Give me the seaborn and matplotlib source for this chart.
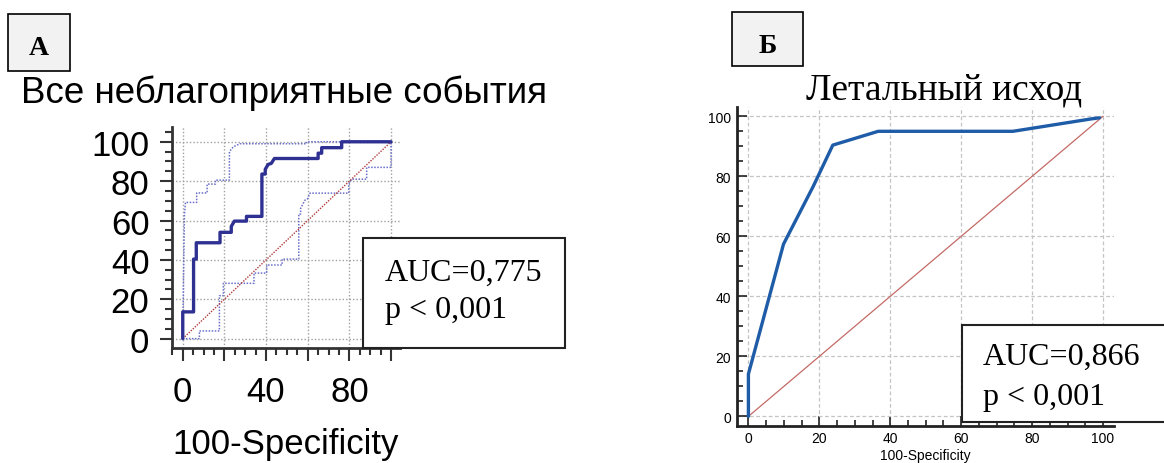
import matplotlib
matplotlib.use("Agg")
import matplotlib.pyplot as plt
import seaborn as sns
import pandas as pd
from matplotlib.patches import Rectangle
from matplotlib.ticker import MultipleLocator, FixedLocator, FixedFormatter

# ---------------- data ----------------
a_roc_fpr = [0, 0, 5.2, 5.2, 6.5, 6.5, 17.9, 17.9, 23.3, 23.3, 24.8, 30.6, 30.6, 38.0, 38.0,
             39.6, 39.6, 41.0, 42.5, 44.0, 65.0, 65.0, 66.7, 66.7, 76.3, 76.3, 100]
a_roc_tpr = [0, 13.6, 13.6, 40.4, 40.4, 48.7, 48.7, 54.0, 54.0, 57.0, 59.7, 59.7, 62.1, 62.1, 83.6,
             83.6, 86.0, 88.5, 89.0, 91.5, 91.5, 94.2, 94.2, 97.0, 97.0, 100, 100]
a_up_fpr = [0, 0.4, 0.8, 1.3, 6.7, 6.7, 11.7, 11.7, 15.7, 15.7, 22.4, 22.4, 24.3, 27.5, 59.5, 59.5, 100]
a_up_tpr = [0, 33.7, 62.4, 69.2, 69.2, 74.0, 74.0, 78.5, 78.5, 80.5, 80.5, 95.0, 97.5, 99.0, 99.0, 100, 100]
a_lo_fpr = [0, 8.0, 8.0, 17.6, 17.6, 19.5, 19.5, 34.2, 34.2, 40.3, 40.3, 47.7, 47.7, 55.7, 55.7,
            56.6, 56.6, 58.7, 59.8, 61.1, 79.7, 79.7, 81.1, 88.3, 88.3, 100, 100]
a_lo_tpr = [0, 0, 3.9, 3.9, 21.8, 21.8, 28.1, 28.1, 33.3, 33.3, 37.4, 37.4, 40.4, 40.4, 63.3,
            63.3, 66.2, 70.4, 70.9, 73.9, 73.9, 78.5, 81.0, 81.0, 87.0, 87.0, 100]
b_roc_fpr = [0, 0, 9.9, 18.3, 23.8, 36.6, 74.6, 96.5, 99.0]
b_roc_tpr = [0, 14.1, 57.4, 76.7, 90.4, 95.0, 95.0, 99.1, 99.5]
diag_x = [0, 100]
diag_y = [0, 100]

major_ticks = [0, 20, 40, 60, 80, 100]
a_xticklabels = ["0", "", "40", "", "80", ""]
a_yticklabels = ["0", "20", "40", "60", "80", "100"]
b_ticklabels = ["0", "20", "40", "60", "80", "100"]

a_title = "Все неблагоприятные события"
b_title = "Летальный исход"
a_letter = "А"
b_letter = "Б"
a_auc = "AUC=0,775"
b_auc = "AUC=0,866"
p_text = "p < 0,001"
x_label = "100-Specificity"

# ---------------- figure ----------------
sns.set_theme(style="white")
plt.rcParams["font.family"] = ["Liberation Sans", "DejaVu Sans"]
plt.rcParams["text.color"] = "black"
plt.rcParams["axes.labelcolor"] = "black"
plt.rcParams["xtick.color"] = "black"
plt.rcParams["ytick.color"] = "black"
W, H = 1164, 464
fig = plt.figure(figsize=(W / 100, H / 100), dpi=100)


def fx(px):
    return px / W


def fy(py):
    return 1 - py / H


SERIF = ["Liberation Serif", "DejaVu Serif"]

# ---------- panel A ----------
axA = fig.add_axes([fx(171.7), fy(348.7), (400 - 171.7) / W, (348.7 - 128) / H])
sns.lineplot(x=a_up_fpr, y=a_up_tpr, sort=False, estimator=None, ax=axA,
             color="#6a6fc8", lw=1.1, ls=(0, (1, 1)))
sns.lineplot(x=a_lo_fpr, y=a_lo_tpr, sort=False, estimator=None, ax=axA,
             color="#6a6fc8", lw=1.1, ls=(0, (1, 1)))
sns.lineplot(x=diag_x, y=diag_y, sort=False, estimator=None, ax=axA,
             color="#b03a3a", lw=1.0, ls=(0, (1, 1)))
sns.lineplot(x=a_roc_fpr, y=a_roc_tpr, sort=False, estimator=None, ax=axA,
             color="#2e3192", lw=2.4)
axA.set_xlim(-5.3, 104.3)
axA.set_ylim(-4.6, 107.5)
axA.xaxis.set_major_locator(FixedLocator(major_ticks))
axA.xaxis.set_major_formatter(FixedFormatter(a_xticklabels))
axA.yaxis.set_major_locator(FixedLocator(major_ticks))
axA.yaxis.set_major_formatter(FixedFormatter(a_yticklabels))
axA.xaxis.set_minor_locator(MultipleLocator(5))
axA.yaxis.set_minor_locator(MultipleLocator(5))
axA.grid(True, which="major", ls=(0, (1, 1.5)), color="#a0a0a0", lw=1)
axA.tick_params(which="both", bottom=True, left=True, direction="out", color="#333333", width=1.5)
axA.tick_params(which="major", length=9)
axA.tick_params(which="minor", length=5)
axA.tick_params(axis="x", which="major", labelsize=25, pad=11, labelcolor="black")
axA.tick_params(axis="y", which="major", labelsize=25, pad=7, labelcolor="black")
for s in ["top", "right"]:
    axA.spines[s].set_visible(False)
for s in ["left", "bottom"]:
    axA.spines[s].set_color("#333333")
    axA.spines[s].set_linewidth(2)
axA.set_xlabel(x_label, fontsize=25, labelpad=13, color="black")
axA.set_ylabel("")

# ---------- panel B ----------
axB = fig.add_axes([fx(736.7), fy(426.7), (1114 - 736.7) / W, (426.7 - 108) / H])
sns.lineplot(x=diag_x, y=diag_y, sort=False, estimator=None, ax=axB,
             color="#c46a66", lw=0.9)
sns.lineplot(x=b_roc_fpr, y=b_roc_tpr, sort=False, estimator=None, ax=axB,
             color="#1f5ca8", lw=2.4)
axB.set_xlim(-3.3, 103.1)
axB.set_ylim(-3.1, 103.1)
axB.xaxis.set_major_locator(FixedLocator(major_ticks))
axB.xaxis.set_major_formatter(FixedFormatter(b_ticklabels))
axB.yaxis.set_major_locator(FixedLocator(major_ticks))
axB.yaxis.set_major_formatter(FixedFormatter(b_ticklabels))
axB.xaxis.set_minor_locator(MultipleLocator(5))
axB.yaxis.set_minor_locator(MultipleLocator(5))
axB.grid(True, which="major", ls=(0, (3, 2)), color="#c4c4c4", lw=0.9)
axB.tick_params(which="both", bottom=True, left=True, direction="in", color="#222222", width=1.2)
axB.tick_params(which="major", length=7, labelsize=10, labelcolor="black")
axB.tick_params(which="minor", length=4)
axB.tick_params(axis="x", which="major", pad=4)
axB.tick_params(axis="y", which="major", pad=4)
for s in ["top", "right"]:
    axB.spines[s].set_visible(False)
for s in ["left", "bottom"]:
    axB.spines[s].set_color("#222222")
    axB.spines[s].set_linewidth(2)
axB.set_xlabel(x_label, fontsize=10, labelpad=2, color="black")
axB.set_ylabel("")

# ---------- letter boxes ----------
fig.add_artist(Rectangle((fx(8), fy(72)), (70 - 8) / W, (72 - 15) / H, transform=fig.transFigure,
                         facecolor="#f2f2f2", edgecolor="black", lw=1.2))
fig.text(fx(39), fy(55), a_letter, ha="center", va="baseline", fontsize=20,
         fontweight="bold", family=SERIF)
fig.add_artist(Rectangle((fx(732), fy(67)), (803 - 732) / W, (67 - 13) / H, transform=fig.transFigure,
                         facecolor="#f2f2f2", edgecolor="black", lw=1.2))
fig.text(fx(768), fy(53), b_letter, ha="center", va="baseline", fontsize=20,
         fontweight="bold", family=SERIF)

# ---------- titles ----------
fig.text(fx(284), fy(103), a_title, ha="center", va="baseline", fontsize=26.5)
fig.text(fx(944.5), fy(100), b_title, ha="center", va="baseline", fontsize=27, family=SERIF)

# ---------- AUC boxes ----------
fig.add_artist(Rectangle((fx(363), fy(349)), (565 - 363) / W, (349 - 239) / H, transform=fig.transFigure,
                         facecolor="white", edgecolor="#222222", lw=1.5, zorder=5))
fig.text(fx(385), fy(281), a_auc, ha="left", va="baseline", fontsize=23, family=SERIF, zorder=6)
fig.text(fx(385), fy(318), p_text, ha="left", va="baseline", fontsize=23, family=SERIF, zorder=6)

fig.add_artist(Rectangle((fx(962), fy(423)), (1180 - 962) / W, (423 - 325.7) / H, transform=fig.transFigure,
                         facecolor="white", edgecolor="#222222", lw=1.5, zorder=5))
fig.text(fx(983), fy(365), b_auc, ha="left", va="baseline", fontsize=23, family=SERIF, zorder=6)
fig.text(fx(983), fy(405), p_text, ha="left", va="baseline", fontsize=23, family=SERIF, zorder=6)

fig.savefig("out.png", dpi=100)
